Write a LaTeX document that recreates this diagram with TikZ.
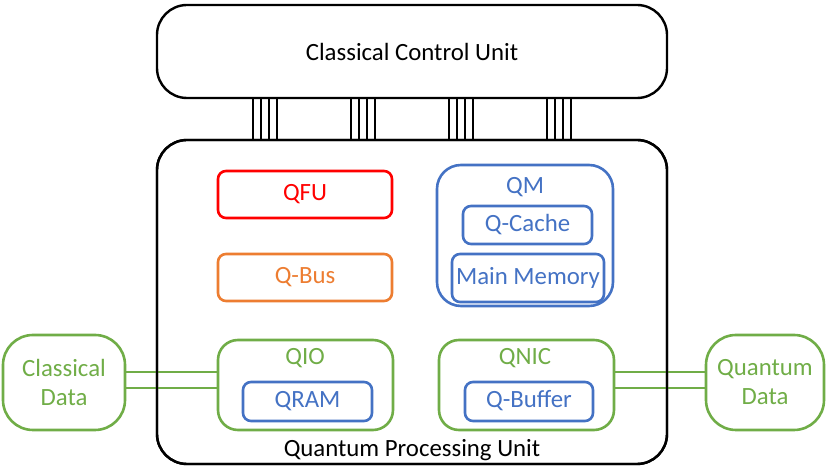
\documentclass[tikz,border=0pt]{standalone}
\usepackage{fontspec}
\setmainfont{Carlito}
\definecolor{cred}{HTML}{FF0000}
\definecolor{corange}{HTML}{ED7D31}
\definecolor{cblue}{HTML}{4472C4}
\definecolor{cgreen}{HTML}{70AD47}
\begin{document}
\begin{tikzpicture}[x=0.5pt,y=-0.5pt,
  every node/.style={font=\fontsize{12.4}{14.5}\selectfont, inner sep=0pt, outer sep=0pt},
  one/.style={text height=0.64em, text depth=0pt},
  bigbox/.style={draw=black, line width=1.2pt, rounded corners=15pt, fill=white},
  unitbox/.style={draw=#1, text=#1, line width=1.3pt, rounded corners=4pt, one},
  groupbox/.style={draw=#1, line width=1.3pt, rounded corners=10pt},
  databox/.style={draw=cgreen, text=cgreen, line width=1.3pt, rounded corners=15pt, align=center},
  lbl/.style={text=#1, one},
  bus/.style={line width=0.9pt, black},
  gline/.style={line width=1pt, cgreen}]
\useasboundingbox (0,0) rectangle (830,469);
% main units
\node[bigbox, minimum width=255pt, minimum height=46.5pt] (ccu) at (412,51.5) {};
\node[one] (ccul) at (412,54) {Classical Control Unit};
\node[bigbox, minimum width=255pt, minimum height=162pt] (qpu) at (412,302) {};
\node[one] (qpul) at (412,450) {Quantum Processing Unit};
% buses between CCU and QPU
\foreach \x in {253,261,269,277, 351,359,367,375, 449,457,465,473, 547,555,563,571}
  \draw[bus] (\x,0 |- ccu.south) -- (\x,0 |- qpu.north);
% inner units
\node[unitbox=cred, minimum width=87pt, minimum height=23.5pt] (qfu) at (305,194.5) {QFU};
\node[unitbox=corange, minimum width=87pt, minimum height=23.5pt] (qbus) at (305,277.5) {Q-Bus};
% QM
\node[groupbox=cblue, rounded corners=12pt, minimum width=88pt, minimum height=70.5pt] (qm) at (525,235.5) {};
\node[lbl=cblue] (qml) at (525,187) {QM};
\node[unitbox=cblue, minimum width=64.5pt, minimum height=19pt] (qcache) at (527.5,225) {Q-Cache};
\node[unitbox=cblue, minimum width=76pt, minimum height=24pt] (mainmem) at (528,278) {Main Memory};
% QIO
\node[groupbox=cgreen, minimum width=87.5pt, minimum height=45pt] (qio) at (305.5,385) {};
\node[lbl=cgreen] (qiol) at (305,358) {QIO};
\node[unitbox=cblue, minimum width=64.5pt, minimum height=19.5pt] (qram) at (307.5,401.5) {QRAM};
% QNIC
\node[groupbox=cgreen, minimum width=87.5pt, minimum height=45pt] (qnic) at (526.5,385) {};
\node[lbl=cgreen] (qnicl) at (525,358) {QNIC};
\node[unitbox=cblue, minimum width=64pt, minimum height=19.5pt] (qbuf) at (529,401.5) {Q-Buffer};
% data boxes
\node[databox, minimum width=61pt, minimum height=47.5pt] (cdata) at (64,382.5) {Classical\\Data};
\node[databox, minimum width=59pt, minimum height=47.5pt] (qdata) at (765,382.5) {Quantum\\Data};
% double lines
\draw[gline] (cdata.east |- 0,372) -- (qio.west |- 0,372);
\draw[gline] (cdata.east |- 0,388) -- (qio.west |- 0,388);
\draw[gline] (qnic.east |- 0,372) -- (qdata.west |- 0,372);
\draw[gline] (qnic.east |- 0,388) -- (qdata.west |- 0,388);
% QPU border over the lines
\draw[line width=1.2pt, rounded corners=15pt] (qpu.north west) rectangle (qpu.south east);
\end{tikzpicture}
\end{document}
